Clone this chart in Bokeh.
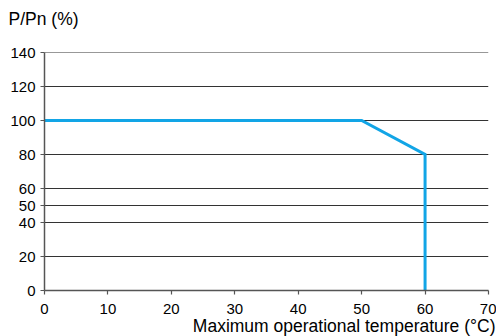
from bokeh.plotting import figure
from bokeh.models import Range1d, FixedTicker, Title, Span
from bokeh.embed import file_html
from bokeh.resources import INLINE

# Data
temperature = [0, 50, 60, 60]
power_pct = [100, 100, 80, 0]
x_ticks = [0, 10, 20, 30, 40, 50, 60, 70]
y_ticks = [0, 20, 40, 50, 60, 80, 100, 120, 140]
x_title = "Maximum operational temperature (°C)"
y_title = "P/Pn (%)"

FONT = "Liberation Sans"

p = figure(width=496, height=336, output_backend="svg", toolbar_location=None,
           x_range=Range1d(0, 70), y_range=Range1d(0, 140),
           min_border_left=44, min_border_right=8,
           min_border_top=52, min_border_bottom=46)
p.outline_line_color = None
p.background_fill_color = "white"
p.border_fill_color = "white"

p.xgrid.visible = False
p.ygrid.ticker = FixedTicker(ticks=y_ticks)
p.ygrid.grid_line_color = "#333333"
p.ygrid.grid_line_width = 1
p.add_layout(Span(location=y_ticks[-1], dimension="width",
                  line_color="#333333", line_width=1))

for ax in (p.xaxis[0], p.yaxis[0]):
    ax.axis_line_color = "#555555"
    ax.axis_line_width = 1.5
    ax.major_tick_line_color = "#555555"
    ax.major_tick_line_width = 1.2
    ax.major_tick_in = 0
    ax.major_tick_out = 4
    ax.minor_tick_line_color = None
    ax.major_label_text_font = FONT
    ax.major_label_text_font_size = "15px"
    ax.major_label_text_color = "black"
    ax.major_label_standoff = 5

p.xaxis[0].major_label_standoff = 9
p.xaxis[0].ticker = FixedTicker(ticks=x_ticks)
p.yaxis[0].ticker = FixedTicker(ticks=y_ticks)

p.line(temperature, power_pct, line_color="#12a5e6", line_width=3, line_join="miter")

# spacer between frame and top title
p.add_layout(Title(text=" ", standoff=2, text_font=FONT, text_font_size="17.5px"), "above")
p.add_layout(Title(text=y_title, align="left", offset=-36, standoff=0,
                   vertical_align="bottom",
                   text_font=FONT, text_font_size="17.5px", text_font_style="normal",
                   text_color="black"), "above")
p.add_layout(Title(text=x_title, align="right", offset=-7, standoff=-6,
                   text_font=FONT, text_font_size="17.5px", text_font_style="normal",
                   text_color="black"), "below")

open("out.html", "w").write(file_html(p, INLINE))
